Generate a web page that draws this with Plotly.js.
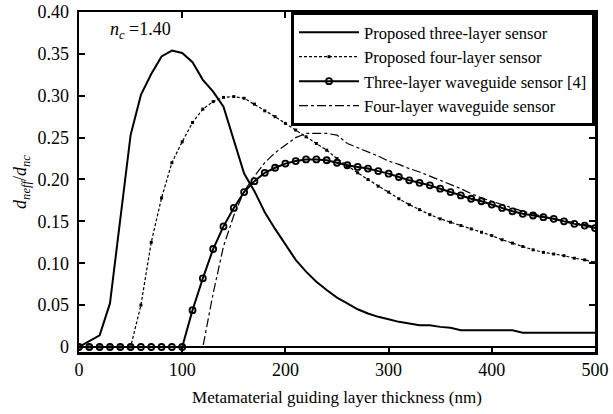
<!DOCTYPE html>
<html>
<head>
<meta charset="utf-8">
<script src="https://cdn.plot.ly/plotly-3.0.1.min.js"></script>
<style>html,body{margin:0;padding:0;background:#fff;}#chart{width:613px;height:414px;}</style>
</head>
<body>
<div id="chart"></div>
<script>
// Metamaterial guiding layer thickness (nm)
const thickness = [0,10,20,30,40,50,60,70,80,90,100,110,120,130,140,150,160,170,180,190,200,210,220,230,240,250,260,270,280,290,300,310,320,330,340,350,360,370,380,390,400,410,420,430,440,450,460,470,480,490,500];

const proposedThree = [0,0.007,0.014,0.052,0.15,0.253,0.301,0.326,0.347,0.354,0.351,0.340,0.319,0.305,0.287,0.246,0.207,0.186,0.161,0.141,0.122,0.104,0.090,0.078,0.068,0.059,0.052,0.045,0.040,0.036,0.033,0.030,0.028,0.026,0.026,0.024,0.023,0.020,0.020,0.020,0.020,0.020,0.020,0.017,0.017,0.017,0.017,0.017,0.017,0.017,0.017];

const proposedFour = [0,0,0,0,0,0,0.05,0.125,0.178,0.22,0.245,0.268,0.284,0.293,0.298,0.299,0.297,0.290,0.282,0.275,0.267,0.259,0.251,0.243,0.235,0.225,0.216,0.208,0.200,0.192,0.185,0.177,0.170,0.164,0.158,0.153,0.149,0.145,0.141,0.137,0.133,0.128,0.124,0.120,0.116,0.113,0.111,0.109,0.106,0.104,0.101];

const threeWaveguide = [0,0,0,0,0,0,0,0,0,0,0,0.044,0.082,0.117,0.144,0.166,0.185,0.198,0.208,0.214,0.219,0.222,0.224,0.224,0.223,0.220,0.217,0.215,0.213,0.210,0.207,0.203,0.199,0.196,0.193,0.189,0.185,0.181,0.177,0.174,0.170,0.166,0.162,0.159,0.157,0.155,0.153,0.150,0.147,0.145,0.142];

const fourWaveguide = [0,0,0,0,0,0,0,0,0,0,0,0,0,0.064,0.12,0.157,0.186,0.204,0.22,0.232,0.241,0.25,0.255,0.255,0.255,0.253,0.243,0.238,0.233,0.228,0.222,0.218,0.213,0.209,0.204,0.199,0.194,0.189,0.183,0.178,0.174,0.170,0.166,0.162,0.159,0.156,0.153,0.151,0.148,0.146,0.144];

const seriesNames = ["Proposed three-layer sensor","Proposed four-layer sensor","Three-layer waveguide sensor [4]","Four-layer waveguide sensor"];
const yTickVals = [0,0.05,0.10,0.15,0.20,0.25,0.30,0.35,0.40];
const yTickText = ["0","0.05","0.10","0.15","0.20","0.25","0.30","0.35","0.40"];
const xTickVals = [0,100,200,300,400,500];

const FONT = "Liberation Serif, Times New Roman, serif";

const traces = [
  {x: thickness, y: proposedThree, name: seriesNames[0], mode: "lines",
   line: {color: "#000", width: 2}},
  {x: thickness, y: proposedFour, name: seriesNames[1], mode: "lines+markers",
   line: {color: "#000", width: 1.2, dash: "3px,2px"},
   marker: {symbol: "square", size: 3, color: "#000"}},
  {x: thickness, y: threeWaveguide, name: seriesNames[2], mode: "lines+markers",
   line: {color: "#000", width: 2},
   marker: {symbol: "circle-open", size: 6, color: "#000", line: {width: 1.8, color: "#000"}}},
  {x: thickness, y: fourWaveguide, name: seriesNames[3], mode: "lines",
   line: {color: "#000", width: 1.2, dash: "dashdot"}}
];

const layout = {
  width: 613, height: 414,
  margin: {l: 79, r: 18, t: 11.5, b: 61.5},
  paper_bgcolor: "#fff", plot_bgcolor: "#fff",
  font: {family: FONT, color: "#000", size: 17},
  showlegend: true,
  legend: {x: 1, xanchor: "right", y: 1, yanchor: "top",
           bgcolor: "#fff", bordercolor: "#000", borderwidth: 3,
           font: {family: FONT, size: 16.5, color: "#000"},
           itemwidth: 60, tracegroupgap: 0},
  xaxis: {range: [0, 500], tickvals: xTickVals, ticks: "inside", ticklen: 6, tickwidth: 2,
          tickcolor: "#000", showline: true, linewidth: 2.5, linecolor: "#000", mirror: "ticks",
          showgrid: false, zeroline: false, tickfont: {size: 18},
          title: {text: "Metamaterial guiding layer thickness (nm)", font: {size: 17}, standoff: 12}},
  yaxis: {range: [-0.006, 0.40], tickvals: yTickVals, ticktext: yTickText, ticks: "inside", ticklen: 6, tickwidth: 2,
          tickcolor: "#000", showline: true, linewidth: 2.5, linecolor: "#000", mirror: "ticks",
          showgrid: false, zeroline: true, zerolinecolor: "#000", zerolinewidth: 2.5,
          tickfont: {size: 18}, ticklabelstandoff: 4,
          title: {text: "<i>d</i><sub><i>neff</i></sub>/<i>d</i><sub><i>nc</i></sub>", font: {size: 18}, standoff: 6}},
  annotations: [{x: 28, y: 0.378, xref: "x", yref: "y", xanchor: "left", yanchor: "middle", showarrow: false,
                 text: "<i>n<sub>c</sub></i> =1.40", font: {family: FONT, size: 18, color: "#000"}}]
};

Plotly.newPlot("chart", traces, layout, {displayModeBar: false, staticPlot: true});
</script>
</body>
</html>
